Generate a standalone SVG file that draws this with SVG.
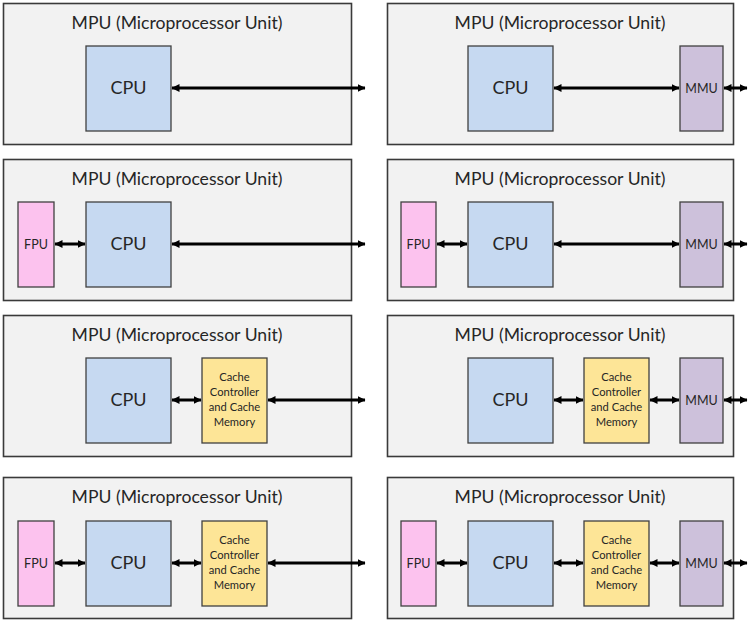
<svg xmlns="http://www.w3.org/2000/svg" width="750" height="623" viewBox="0 0 750 623">
<defs>
<style>
.panel{fill:#f2f2f2;stroke:#3a3a3a;stroke-width:1.6}
.cpu{fill:#c6d9f1;stroke:#404040;stroke-width:1.3}
.fpu{fill:#fcc2ee;stroke:#404040;stroke-width:1.3}
.cache{fill:#fde597;stroke:#404040;stroke-width:1.3}
.mmu{fill:#cdc1db;stroke:#404040;stroke-width:1.3}
text{font-family:Lato,"Open Sans","Liberation Sans",sans-serif;fill:#262626;text-anchor:middle}
.title{font-size:17.6px}
.big{font-size:18px}
.sm{font-size:12.5px}
.cc{font-size:11.2px}
.con line{stroke:#000;stroke-width:3;marker-start:url(#ah);marker-end:url(#ah)}
</style>
<marker id="ah" markerUnits="userSpaceOnUse" markerWidth="9" markerHeight="10" refX="7.5" refY="5" orient="auto-start-reverse">
<path d="M0,1 L8,5 L0,9 z" fill="#000"/>
</marker>
</defs>

<!-- Row 1 left -->
<g id="panel1"><rect class="panel" x="3.5" y="3.5" width="348" height="141"/><text class="title" x="177" y="29">MPU (Microprocessor Unit)</text></g>
<g id="cpu1"><rect class="cpu" x="86" y="46" width="85" height="85"/><text class="big" x="128.5" y="94">CPU</text></g>

<!-- Row 1 right -->
<g id="panel2"><rect class="panel" x="387.5" y="3.5" width="346" height="141"/><text class="title" x="560" y="29">MPU (Microprocessor Unit)</text></g>
<g id="cpu2"><rect class="cpu" x="468" y="46" width="85" height="85"/><text class="big" x="510.5" y="94">CPU</text></g>
<g id="mmu2"><rect class="mmu" x="680" y="46" width="43" height="85"/><text class="sm" x="701.5" y="92.5">MMU</text></g>

<!-- Row 2 left -->
<g id="panel3"><rect class="panel" x="3.5" y="159.5" width="348" height="141"/><text class="title" x="177" y="185">MPU (Microprocessor Unit)</text></g>
<g id="fpu3"><rect class="fpu" x="18" y="202" width="36" height="85"/><text class="sm" x="36" y="248.5">FPU</text></g>
<g id="cpu3"><rect class="cpu" x="86" y="202" width="85" height="85"/><text class="big" x="128.5" y="250">CPU</text></g>

<!-- Row 2 right -->
<g id="panel4"><rect class="panel" x="387.5" y="159.5" width="346" height="141"/><text class="title" x="560" y="185">MPU (Microprocessor Unit)</text></g>
<g id="fpu4"><rect class="fpu" x="401" y="202" width="35" height="85"/><text class="sm" x="418.5" y="248.5">FPU</text></g>
<g id="cpu4"><rect class="cpu" x="468" y="202" width="85" height="85"/><text class="big" x="510.5" y="250">CPU</text></g>
<g id="mmu4"><rect class="mmu" x="680" y="202" width="43" height="85"/><text class="sm" x="701.5" y="248.5">MMU</text></g>

<!-- Row 3 left -->
<g id="panel5"><rect class="panel" x="3.5" y="315.5" width="348" height="141"/><text class="title" x="177" y="341">MPU (Microprocessor Unit)</text></g>
<g id="cpu5"><rect class="cpu" x="86" y="358" width="85" height="85"/><text class="big" x="128.5" y="406">CPU</text></g>
<g id="cache5"><rect class="cache" x="202" y="358" width="65" height="85"/><text class="cc" x="234.5" y="381">Cache</text><text class="cc" x="234.5" y="396">Controller</text><text class="cc" x="234.5" y="411">and Cache</text><text class="cc" x="234.5" y="426">Memory</text></g>

<!-- Row 3 right -->
<g id="panel6"><rect class="panel" x="387.5" y="315.5" width="346" height="141"/><text class="title" x="560" y="341">MPU (Microprocessor Unit)</text></g>
<g id="cpu6"><rect class="cpu" x="468" y="358" width="85" height="85"/><text class="big" x="510.5" y="406">CPU</text></g>
<g id="cache6"><rect class="cache" x="584" y="358" width="65" height="85"/><text class="cc" x="616.5" y="381">Cache</text><text class="cc" x="616.5" y="396">Controller</text><text class="cc" x="616.5" y="411">and Cache</text><text class="cc" x="616.5" y="426">Memory</text></g>
<g id="mmu6"><rect class="mmu" x="680" y="358" width="43" height="85"/><text class="sm" x="701.5" y="404.5">MMU</text></g>

<!-- Row 4 left -->
<g id="panel7"><rect class="panel" x="3.5" y="477.5" width="348" height="141"/><text class="title" x="177" y="503">MPU (Microprocessor Unit)</text></g>
<g id="fpu7"><rect class="fpu" x="18" y="521" width="36" height="85"/><text class="sm" x="36" y="567.5">FPU</text></g>
<g id="cpu7"><rect class="cpu" x="86" y="521" width="85" height="85"/><text class="big" x="128.5" y="569">CPU</text></g>
<g id="cache7"><rect class="cache" x="202" y="521" width="65" height="85"/><text class="cc" x="234.5" y="544">Cache</text><text class="cc" x="234.5" y="559">Controller</text><text class="cc" x="234.5" y="574">and Cache</text><text class="cc" x="234.5" y="589">Memory</text></g>

<!-- Row 4 right -->
<g id="panel8"><rect class="panel" x="387.5" y="477.5" width="346" height="141"/><text class="title" x="560" y="503">MPU (Microprocessor Unit)</text></g>
<g id="fpu8"><rect class="fpu" x="401" y="521" width="35" height="85"/><text class="sm" x="418.5" y="567.5">FPU</text></g>
<g id="cpu8"><rect class="cpu" x="468" y="521" width="85" height="85"/><text class="big" x="510.5" y="569">CPU</text></g>
<g id="cache8"><rect class="cache" x="584" y="521" width="65" height="85"/><text class="cc" x="616.5" y="544">Cache</text><text class="cc" x="616.5" y="559">Controller</text><text class="cc" x="616.5" y="574">and Cache</text><text class="cc" x="616.5" y="589">Memory</text></g>
<g id="mmu8"><rect class="mmu" x="680" y="521" width="43" height="85"/><text class="sm" x="701.5" y="567.5">MMU</text></g>

<g id="connectors" class="con">
<line x1="172" y1="88" x2="365" y2="88"/>
<line x1="554" y1="88" x2="679" y2="88"/>
<line x1="724" y1="88" x2="747" y2="88"/>

<line x1="55" y1="244" x2="85" y2="244"/>
<line x1="172" y1="244" x2="365" y2="244"/>
<line x1="437" y1="244" x2="467" y2="244"/>
<line x1="554" y1="244" x2="679" y2="244"/>
<line x1="724" y1="244" x2="747" y2="244"/>

<line x1="172" y1="400" x2="201" y2="400"/>
<line x1="268" y1="400" x2="365" y2="400"/>
<line x1="554" y1="400" x2="583" y2="400"/>
<line x1="650" y1="400" x2="679" y2="400"/>
<line x1="724" y1="400" x2="747" y2="400"/>

<line x1="55" y1="563" x2="85" y2="563"/>
<line x1="172" y1="563" x2="201" y2="563"/>
<line x1="268" y1="563" x2="365" y2="563"/>
<line x1="437" y1="563" x2="467" y2="563"/>
<line x1="554" y1="563" x2="583" y2="563"/>
<line x1="650" y1="563" x2="679" y2="563"/>
<line x1="724" y1="563" x2="747" y2="563"/>
</g>
</svg>
